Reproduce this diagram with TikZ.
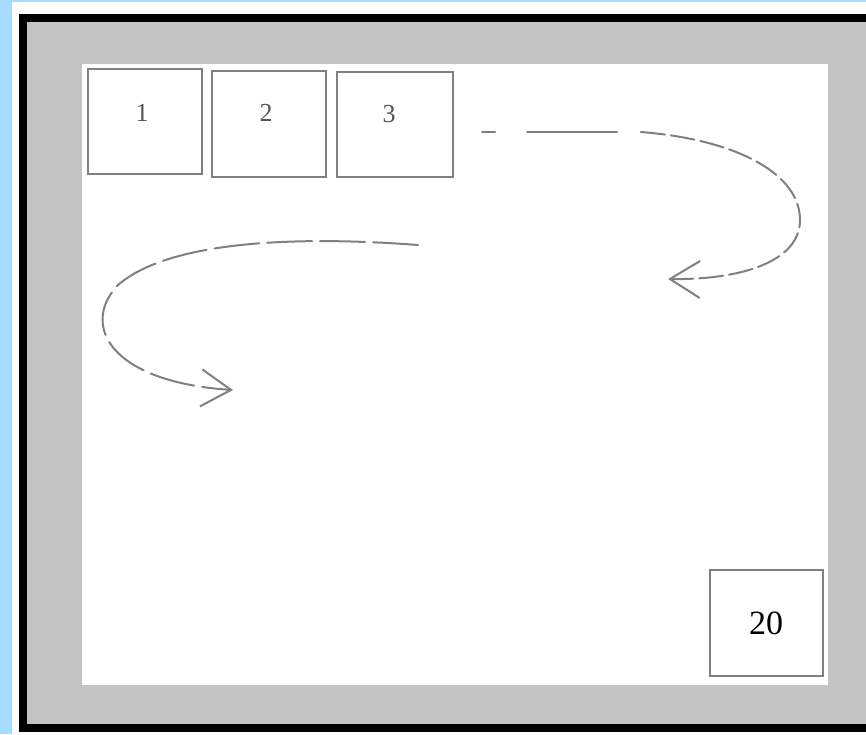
\documentclass[tikz,border=0pt]{standalone}
\usepackage{fontspec}
\setmainfont{Liberation Serif}
\usetikzlibrary{arrows.meta, positioning}

\definecolor{pageblue}{HTML}{A6DCFF}
\definecolor{framegray}{HTML}{C3C3C3}
\definecolor{cellgray}{HTML}{808080}
\definecolor{numgray}{HTML}{555555}

\begin{document}
\begin{tikzpicture}[
    x=1pt, y=-1pt,
    cell/.style={draw=cellgray, line width=1.5pt, fill=white, inner sep=0pt},
    num/.style={font=\fontsize{26}{30}\selectfont, text=numgray, inner sep=0pt},
    flow/.style={draw=cellgray, line width=2pt, line cap=round},
    barb/.style={-{Straight Barb[length=30pt, width=37pt, line width=2pt]}}
  ]
  \useasboundingbox (0,0) rectangle (866,734);

  % Page and frame
  \fill[pageblue] (0,0) rectangle (12,734);
  \fill[pageblue] (0,0) rectangle (866,1.5);
  \draw[line width=8pt, fill=framegray] (23,17.5) rectangle (870,728);
  \fill[white] (82,64) rectangle (828,685);

  % First row of cells
  \node[cell, minimum width=114pt, minimum height=105pt] (c1) at (145,121.5) {};
  \node[cell, minimum width=114pt, minimum height=106pt] (c2) at (269,124) {};
  \node[cell, minimum width=116pt, minimum height=105pt] (c3) at (395,124.5) {};
  \node[num] (n1) at (142,113) {1};
  \node[num] (n2) at (266,113) {2};
  \node[num] (n3) at (389,114) {3};

  % Last cell
  \node[cell, minimum width=113pt, minimum height=106pt] (c20) at (766.5,623) {};
  \node[num, text=black, font=\fontsize{34}{38}\selectfont] (n20) at (766,623) {20};

  % Wrap arrows
  \coordinate (s1) at (482,132);
  \coordinate (k1) at (641,132);
  \coordinate (e1) at (668,279);
  \coordinate (s2) at (418,245);
  \coordinate (e2) at (233,390);

  \draw[flow, dash pattern=on 13pt off 32pt on 90pt off 24pt] (s1) -- (k1);
  \draw[flow, barb, dash pattern=on 24pt off 6pt] (k1)
    .. controls (740,140) and (800,175) .. (800,220)
    .. controls (800,262) and (740,280) .. (e1);
  \draw[flow, barb, dash pattern=on 45pt off 8pt] (s2)
    .. controls (300,236) and (170,240) .. (118,285)
    .. controls (80,325) and (110,382) .. (e2);
\end{tikzpicture}
\end{document}
